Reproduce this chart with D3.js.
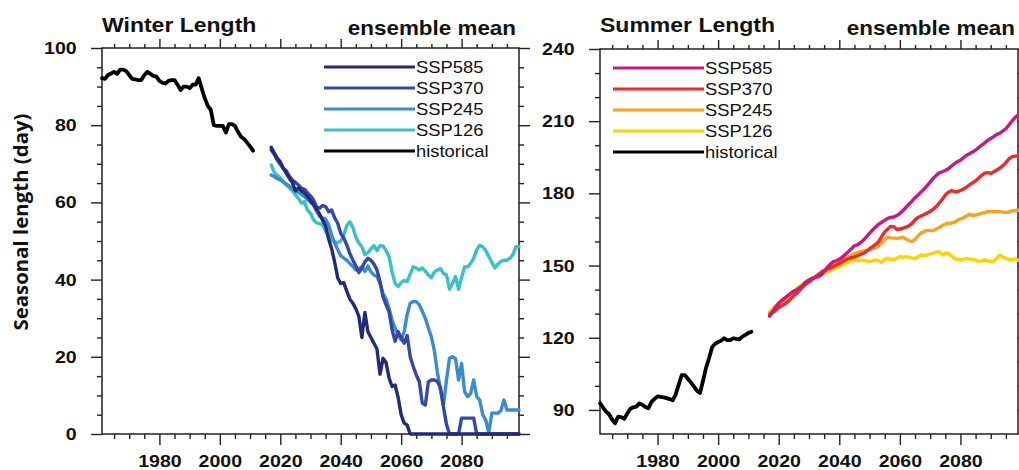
<!DOCTYPE html>
<html>
<head>
<meta charset="utf-8">
<script src="https://cdn.jsdelivr.net/npm/d3@7"></script>
<style>
html, body { margin: 0; padding: 0; background: #fff; }
svg { display: block; }
text { font-family: "Liberation Sans", Arial, Helvetica, sans-serif; fill: #111; }
</style>
</head>
<body>
<svg id="chart" width="1019" height="470"></svg>
<script>
'use strict';

// ---- data ---------------------------------------------------------------
var HIST_START = 1961;
var SSP_START = 2017;
var legendLabels = ['SSP585', 'SSP370', 'SSP245', 'SSP126', 'historical'];
var xTicks = [1980, 2000, 2020, 2040, 2060, 2080];
var winterTicks = [0, 20, 40, 60, 80, 100];
var summerTicks = [90, 120, 150, 180, 210, 240];

var winterHist = [
	92.2, 92.0, 93.0, 93.4, 93.8, 93.3, 94.4, 94.4, 94.0, 93.0,
	92.0, 91.9, 91.7, 91.7, 93.0, 93.8, 93.3, 92.8, 92.6, 91.5,
	91.0, 90.8, 91.5, 91.7, 91.7, 90.5, 89.1, 90.0, 90.0, 89.6,
	90.5, 90.5, 92.2, 89.5, 87.0, 85.0, 84.0, 80.0, 79.8, 79.8,
	79.8, 78.1, 80.3, 80.3, 79.8, 78.3, 77.0, 76.4, 75.5, 74.5,
	73.4
];
var winter585 = [
	74.3, 72.8, 71.5, 70.5, 68.8, 67.5, 66.2, 65.2, 63.0, 63.7,
	63.0, 62.4, 61.5, 60.5, 59.5, 58.2, 57.0, 55.4, 54.0, 50.5,
	48.0, 44.5, 40.5, 39.0, 39.2, 37.0, 35.0, 33.9, 32.5, 30.5,
	25.0, 31.5, 26.5, 25.0, 23.5, 22.0, 15.5, 19.6, 18.5, 14.5,
	12.3, 12.7, 9.5, 5.0, 2.8, 2.3, 0, 0, 0, 0,
	0, 0, 0, 0, 0, 0, 0, 0, 0, 0,
	0, 0, 0, 0, 0, 0, 0, 0, 0, 0,
	0, 0, 0, 0, 0, 0, 0, 0, 0, 0,
	0, 0, 0
];
var winter370 = [
	73.6, 72.5, 71.0, 69.9, 68.8, 68.2, 66.8, 65.8, 65.2, 64.5,
	63.7, 63.4, 62.5, 61.7, 60.6, 58.9, 58.5, 59.2, 58.9, 57.6,
	58.0, 56.0, 54.6, 52.0, 50.8, 49.0, 46.8, 45.1, 43.6, 41.8,
	43.0, 44.6, 45.5, 45.0, 44.0, 42.5, 39.5, 35.5, 33.5, 31.7,
	27.0, 24.0, 26.5, 25.0, 23.5, 25.5, 20.0, 17.5, 15.3, 13.6,
	8.0, 7.5, 13.5, 14.0, 14.0, 13.6, 12.0, 7.0, 2.5, 0,
	0, 0, 0, 4.1, 4.1, 4.1, 4.1, 4.1, 0, 0,
	0, 0, 0, 0, 0, 0, 0, 0, 0, 0,
	0, 0, 0
];
var winter245 = [
	67.1, 66.7, 66.2, 65.8, 65.3, 64.8, 64.2, 63.6, 63.0, 62.6,
	62.0, 61.5, 60.8, 60.0, 59.3, 57.8, 56.4, 56.0, 55.6, 54.2,
	51.5, 49.5, 47.8, 46.2, 45.6, 45.0, 44.2, 43.4, 42.5, 42.8,
	43.4, 42.1, 43.5, 42.0, 41.2, 40.8, 39.0, 36.4, 35.0, 32.5,
	29.5, 27.4, 25.7, 24.4, 26.5, 31.0, 33.9, 34.3, 34.3, 33.5,
	31.8, 30.0, 27.5, 25.2, 21.5, 16.0, 11.5, 7.5, 14.0, 19.6,
	20.0, 19.5, 14.0, 18.3, 11.0, 9.7, 10.5, 14.0, 9.7, 8.8,
	5.0, 3.6, 0.3, 5.4, 5.4, 5.4, 6.0, 8.8, 6.2, 6.2,
	6.2, 6.2, 6.2
];
var winter126 = [
	69.7, 67.8, 67.0, 66.5, 65.3, 64.5, 63.8, 63.0, 62.0, 61.0,
	59.8, 60.2, 58.0, 57.2, 55.5, 54.7, 54.5, 54.2, 52.5, 51.5,
	50.3, 49.8, 49.5, 50.0, 51.5, 54.0, 55.0, 53.6, 51.0, 49.5,
	48.5, 46.5, 47.0, 48.0, 48.8, 47.5, 48.8, 48.7, 47.5, 46.0,
	42.0, 39.0, 38.2, 39.2, 39.8, 39.5, 41.5, 43.3, 43.0, 42.5,
	43.0, 42.2, 41.2, 40.5, 42.0, 42.5, 42.8, 41.6, 41.2, 37.5,
	39.0, 40.8, 37.5, 40.5, 43.3, 43.3, 44.2, 45.5, 47.7, 48.9,
	48.5, 47.5, 46.0, 44.5, 43.0, 44.0, 44.7, 45.0, 45.0, 45.5,
	46.5, 48.5, 48.5
];

var summerHist = [
	92.8, 91.0, 89.3, 88.2, 86.0, 84.5, 87.2, 87.0, 86.3, 88.5,
	90.5, 91.1, 91.4, 92.7, 92.2, 91.2, 90.7, 93.4, 94.6, 95.6,
	95.4, 95.2, 94.9, 94.5, 94.0, 96.5, 100.5, 104.5, 104.5, 103.0,
	101.5, 99.8, 98.0, 97.0, 102.0, 107.5, 111.5, 116.0, 117.5, 118.2,
	118.8, 119.8, 119.0, 119.0, 119.8, 119.5, 119.3, 120.5, 121.2, 122.0,
	122.5
];
var summer585 = [
	129.0, 131.0, 132.8, 134.3, 135.5, 136.5, 137.5, 138.5, 139.3, 140.0,
	140.8, 141.9, 143.2, 144.0, 144.7, 145.0, 145.4, 146.0, 147.5, 149.2,
	150.5, 151.6, 152.0, 152.6, 153.5, 154.6, 155.8, 157.0, 158.2, 158.6,
	159.5, 160.6, 162.0, 163.5, 164.8, 166.0, 167.2, 168.0, 168.8, 169.6,
	170.0, 170.2, 170.8, 171.7, 172.8, 174.2, 175.5, 176.8, 178.2, 179.3,
	180.6, 181.8, 183.2, 184.7, 186.2, 187.5, 188.5, 189.0, 189.5, 190.2,
	191.3, 192.3, 193.2, 193.8, 194.8, 195.8, 196.5, 197.2, 198.0, 199.0,
	200.0, 201.0, 202.0, 202.8, 203.6, 204.5, 205.0, 206.0, 206.8, 208.4,
	210.0, 211.5, 212.5
];
var summer370 = [
	129.5, 130.5, 131.4, 132.5, 133.3, 134.0, 135.0, 136.2, 137.5, 138.5,
	139.8, 141.2, 142.3, 143.2, 144.2, 145.2, 146.2, 147.2, 148.0, 148.5,
	148.9, 149.6, 150.2, 150.9, 151.6, 152.3, 152.9, 153.3, 153.6, 154.0,
	154.6, 155.1, 156.0, 157.0, 157.9, 158.8, 160.0, 162.0, 164.0, 165.2,
	166.3, 166.2, 165.0, 165.2, 165.5, 166.0, 166.5, 167.5, 169.0, 170.0,
	170.6, 171.2, 171.8, 172.5, 173.4, 174.5, 176.0, 177.5, 179.3, 180.5,
	181.1, 180.8, 180.7, 181.2, 181.8, 182.6, 183.5, 184.4, 185.2, 186.3,
	187.5, 188.4, 188.6, 188.3, 189.0, 189.7, 190.5, 191.5, 192.8, 194.3,
	195.2, 195.5, 195.6
];
var summer245 = [
	130.2, 131.0, 131.8, 132.8, 133.8, 134.8, 135.9, 137.0, 138.2, 139.3,
	140.5, 141.5, 142.6, 143.6, 144.5, 145.3, 146.2, 147.0, 147.7, 148.4,
	149.1, 149.9, 150.6, 151.4, 152.2, 153.0, 153.6, 154.2, 155.0, 155.4,
	155.8, 156.0, 156.2, 156.5, 157.0, 157.5, 158.2, 159.5, 160.8, 161.8,
	161.5, 161.4, 161.3, 161.5, 161.8, 161.0, 160.4, 160.0, 160.8, 162.3,
	163.5, 164.2, 164.6, 164.5, 164.5, 165.2, 165.8, 166.6, 167.2, 167.6,
	167.6, 168.0, 168.8, 169.4, 169.8, 170.6, 171.3, 170.8, 171.0, 171.3,
	171.7, 172.0, 172.4, 172.4, 172.5, 172.4, 172.4, 172.2, 172.0, 172.3,
	172.7, 172.9, 173.0
];
var summer126 = [
	130.8, 132.0, 133.3, 134.4, 135.4, 136.5, 137.5, 138.5, 139.5, 140.5,
	141.4, 142.4, 143.3, 144.0, 144.7, 145.3, 145.8, 146.3, 146.8, 147.3,
	147.9, 148.5, 148.9, 149.6, 150.3, 150.9, 151.4, 151.8, 152.2, 152.3,
	152.0, 152.3, 151.8, 151.6, 152.0, 152.3, 152.0, 151.4, 152.5, 153.0,
	152.6, 152.3, 153.0, 153.7, 153.4, 153.7, 153.5, 153.2, 153.0, 153.6,
	154.4, 154.2, 154.4, 154.8, 155.1, 155.5, 155.8, 154.4, 155.1, 155.0,
	154.0, 153.0, 152.6, 152.3, 152.6, 153.0, 152.7, 152.5, 152.3, 151.6,
	152.0, 152.3, 152.0, 151.6, 151.8, 153.0, 154.4, 153.5, 153.0, 152.6,
	152.3, 152.8, 152.2
];

var winterColors = ['#222a7a', '#3548a8', '#3b8bd0', '#38c1c6', '#000000'];
var summerColors = ['#c9197f', '#ee2b2b', '#f8a21e', '#fcd500', '#000000'];

// ---- layout -------------------------------------------------------------
var HX = 1.15; // the source figure is stretched horizontally
var svg = d3.select('#chart');

var panels = [
	{
		title: 'Winter Length',
		left: 102, right: 519, top: 48, bottom: 434,
		domain: [0, 100], ticks: winterTicks, minorStep: 5,
		hist: winterHist,
		ssp: [winter585, winter370, winter245, winter126],
		colors: winterColors,
		legend: { x0: 324, x1: 415, y: 67 }
	},
	{
		title: 'Summer Length',
		left: 600, right: 1018, top: 49, bottom: 434,
		domain: [80, 240], ticks: summerTicks, minorStep: 10,
		hist: summerHist,
		ssp: [summer585, summer370, summer245, summer126],
		colors: summerColors,
		legend: { x0: 613, x1: 704, y: 68 }
	}
];

/**
 * Turn a series of yearly values into points.
 * @param   {number}   start   first year
 * @param   {number[]} values
 * @returns {Object[]}
 */
function toPoints(start, values) {
	return values.map(function(v, i) {
		return { year: start + i, value: v };
	});
}

/**
 * Stretch axis labels horizontally like the reference.
 */
function stretchLabels(g) {
	g.selectAll('text').attr('transform', 'scale(' + HX + ',1)');
}

function styleAxis(g) {
	g.select('.domain').remove();
	g.selectAll('line').attr('stroke', '#222').attr('stroke-width', 1.4);
	g.selectAll('text')
		.style('font-size', '17px')
		.style('font-weight', 'bold')
		.attr('fill', '#111');
}

function drawPanel(p) {
	var x = d3.scaleLinear().domain([1961, 2099]).range([p.left, p.right]);
	var y = d3.scaleLinear().domain(p.domain).range([p.bottom, p.top]);

	var xMinor = d3.range(1965, 2099, 5).filter(function(d) { return d % 20 !== 0; });
	var yMinor = d3.range(p.domain[0], p.domain[1], p.minorStep).filter(function(d) {
		return p.ticks.indexOf(d) < 0 && d > p.domain[0];
	});

	var g = svg.append('g');

	// minor ticks on all four sides
	g.append('g').attr('transform', 'translate(0,' + p.bottom + ')')
		.call(d3.axisBottom(x).tickValues(xMinor).tickSize(5).tickFormat(''))
		.call(styleAxis);
	g.append('g').attr('transform', 'translate(0,' + p.top + ')')
		.call(d3.axisTop(x).tickValues(xMinor).tickSize(4).tickFormat(''))
		.call(styleAxis);
	g.append('g').attr('transform', 'translate(' + p.left + ',0)')
		.call(d3.axisLeft(y).tickValues(yMinor).tickSize(5).tickFormat(''))
		.call(styleAxis);
	g.append('g').attr('transform', 'translate(' + p.right + ',0)')
		.call(d3.axisRight(y).tickValues(yMinor).tickSize(5).tickFormat(''))
		.call(styleAxis);

	// major ticks
	g.append('g').attr('transform', 'translate(0,' + p.bottom + ')')
		.call(d3.axisBottom(x).tickValues(xTicks).tickSize(11).tickPadding(10).tickFormat(d3.format('d')))
		.call(styleAxis)
		.call(stretchLabels);
	g.append('g').attr('transform', 'translate(0,' + p.top + ')')
		.call(d3.axisTop(x).tickValues(xTicks).tickSize(9).tickFormat(''))
		.call(styleAxis);
	g.append('g').attr('transform', 'translate(' + p.left + ',0)')
		.call(d3.axisLeft(y).tickValues(p.ticks).tickSize(11).tickPadding(11))
		.call(styleAxis)
		.call(stretchLabels);
	g.append('g').attr('transform', 'translate(' + p.right + ',0)')
		.call(d3.axisRight(y).tickValues(p.ticks).tickSize(11).tickFormat(''))
		.call(styleAxis);

	// frame
	g.append('rect')
		.attr('x', p.left).attr('y', p.top)
		.attr('width', p.right - p.left).attr('height', p.bottom - p.top)
		.attr('fill', 'none').attr('stroke', '#222').attr('stroke-width', 1.5);

	var line = d3.line()
		.x(function(d) { return x(d.year); })
		.y(function(d) { return y(d.value); });

	var series = [{ pts: toPoints(HIST_START, p.hist), color: p.colors[4], w: 3.8 }];
	for(var i = p.ssp.length - 1; i >= 0; i--) {
		series.push({ pts: toPoints(SSP_START, p.ssp[i]), color: p.colors[i], w: 3.4 });
	}

	g.append('g').selectAll('path')
		.data(series)
		.join('path')
		.attr('d', function(d) { return line(d.pts); })
		.attr('fill', 'none')
		.attr('stroke', function(d) { return d.color; })
		.attr('stroke-width', function(d) { return d.w; })
		.attr('stroke-linejoin', 'round')
		.attr('stroke-linecap', 'round');

	// titles
	g.append('text')
		.attr('transform', 'translate(' + p.left + ',32) scale(' + HX + ',1)')
		.style('font-size', '20px').style('font-weight', 'bold')
		.text(p.title);
	g.append('text')
		.attr('transform', 'translate(' + (p.right - 3) + ',35) scale(' + HX + ',1)')
		.attr('text-anchor', 'end')
		.style('font-size', '19.5px').style('font-weight', 'bold')
		.text('ensemble mean');

	// legend
	var lg = g.append('g').selectAll('g')
		.data(legendLabels)
		.join('g')
		.attr('transform', function(d, i) {
			return 'translate(0,' + (p.legend.y + i * 21) + ')';
		});
	lg.append('line')
		.attr('x1', p.legend.x0).attr('x2', p.legend.x1)
		.attr('stroke', function(d, i) { return p.colors[i]; })
		.attr('stroke-width', 3.2);
	lg.append('text')
		.attr('transform', 'translate(' + (p.legend.x1 + 1) + ',5.8) scale(' + HX + ',1)')
		.style('font-size', '16px')
		.text(function(d) { return d; });
}

panels.forEach(drawPanel);

svg.append('text')
	.attr('transform', 'translate(28,222) rotate(-90)')
	.attr('text-anchor', 'middle')
	.attr('textLength', 217)
	.attr('lengthAdjust', 'spacingAndGlyphs')
	.style('font-family', '"Open Sans", sans-serif')
	.style('font-size', '19.5px')
	.style('font-weight', 'bold')
	.text('Seasonal length (day)');
</script>
</body>
</html>
